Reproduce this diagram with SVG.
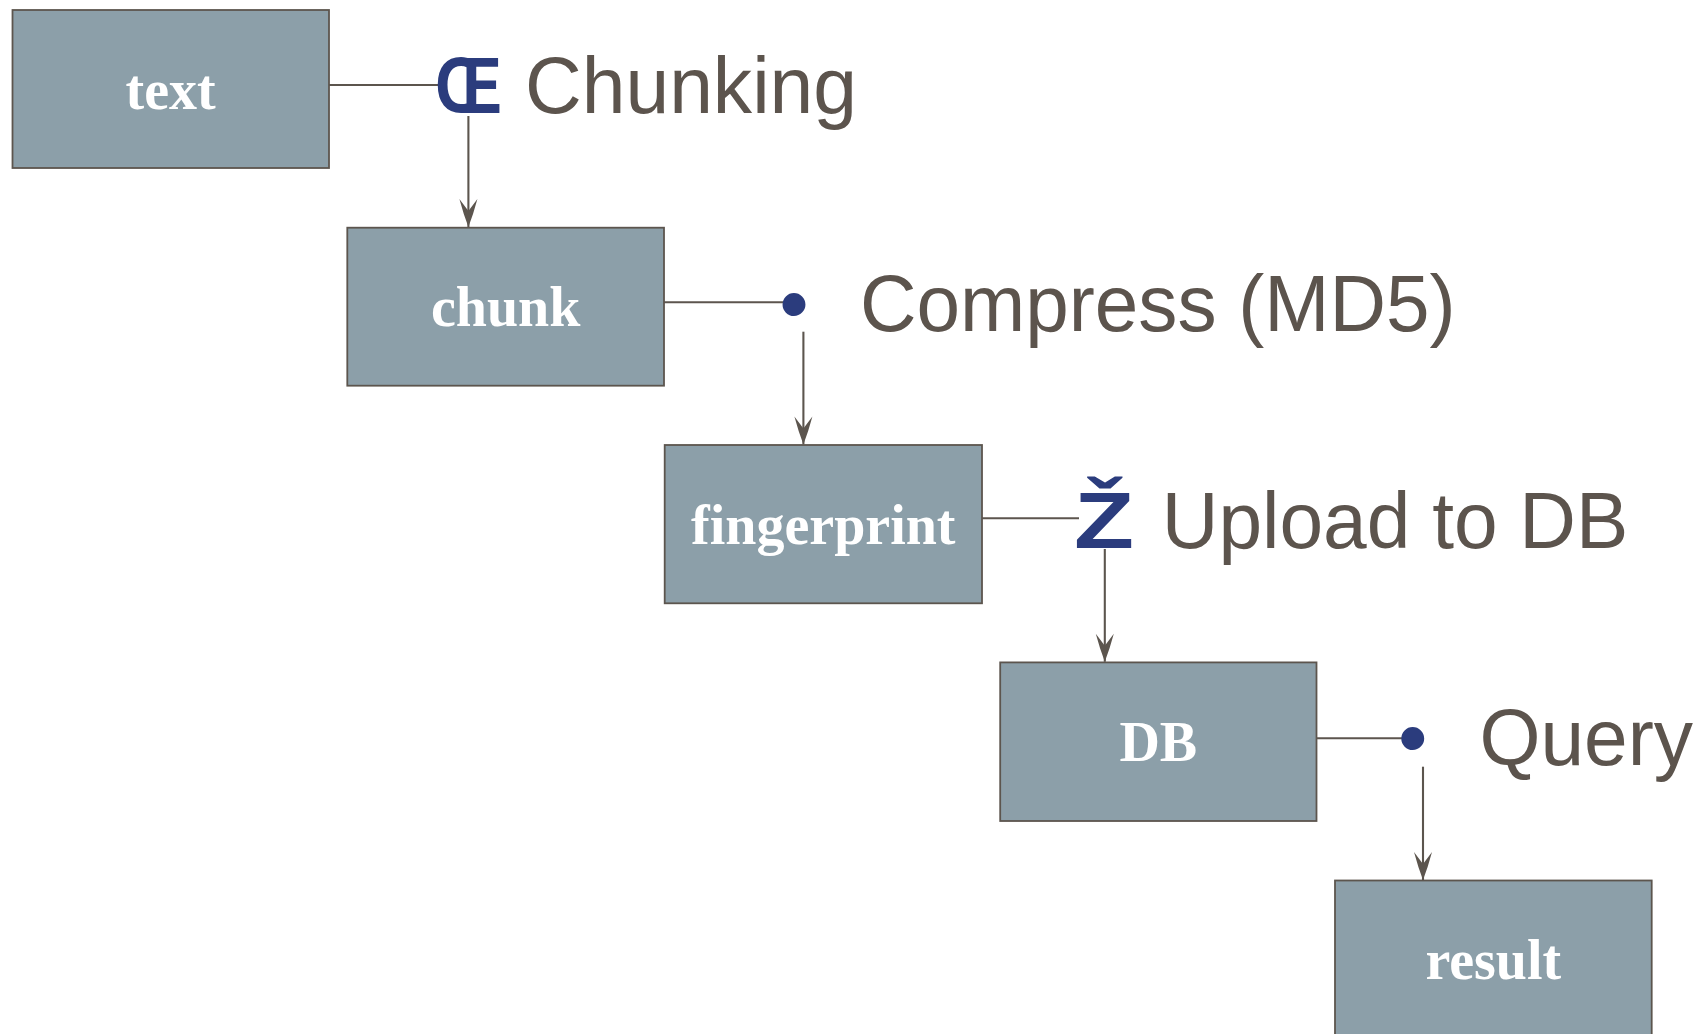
<svg xmlns="http://www.w3.org/2000/svg" width="1697" height="1034" viewBox="0 0 1697 1034">
<style>
.box{fill:#8c9fa9;stroke:#5c554e;stroke-width:1.8}
.lbl{font-family:"Liberation Serif","Times New Roman",serif;font-weight:bold;font-size:56px;fill:#ffffff;text-anchor:middle}
.step{font-family:"Liberation Sans",Arial,sans-serif;font-size:80px;fill:#5c544d}
.sym{font-family:"Liberation Sans",Arial,sans-serif;font-weight:bold;font-size:80px;fill:#2b3c7d}
.con{stroke:#5c554e;stroke-width:2.1;fill:none}
</style>
<defs>
<marker id="arr" markerUnits="userSpaceOnUse" markerWidth="32" markerHeight="22" viewBox="-29 -11 32 22" refX="0" refY="0" orient="auto">
<path d="M0,0 Q-13,-5 -28,-9 L-16,0 L-28,9 Q-13,5 0,0 Z" fill="#5c554e"/>
</marker>
</defs>
<rect width="1697" height="1034" fill="#ffffff"/>
<g id="connectors">
<line class="con" x1="329" y1="85" x2="443" y2="85"/>
<line class="con" x1="468.4" y1="116" x2="468.4" y2="227" marker-end="url(#arr)"/>
<line class="con" x1="664" y1="302.3" x2="783" y2="302.3"/>
<line class="con" x1="803.4" y1="331.7" x2="803.4" y2="444.5" marker-end="url(#arr)"/>
<line class="con" x1="982" y1="518.3" x2="1079" y2="518.3"/>
<line class="con" x1="1104.8" y1="549" x2="1104.8" y2="661.8" marker-end="url(#arr)"/>
<line class="con" x1="1316.5" y1="738.3" x2="1402" y2="738.3"/>
<line class="con" x1="1423" y1="766.7" x2="1423" y2="880" marker-end="url(#arr)"/>
</g>
<g id="node-text">
<rect class="box" x="12.5" y="10" width="316.5" height="158"/>
<text class="lbl" x="170.7" y="108.6">text</text>
</g>
<g id="node-chunk">
<rect class="box" x="347.3" y="227.7" width="316.7" height="158"/>
<text class="lbl" x="505.6" y="326.3">chunk</text>
</g>
<g id="node-fingerprint">
<rect class="box" x="664.7" y="445" width="317.3" height="158.3"/>
<text class="lbl" x="823.3" y="543.6">fingerprint</text>
</g>
<g id="node-db">
<rect class="box" x="1000.2" y="662.4" width="316.3" height="158.6"/>
<text class="lbl" x="1158.3" y="761">DB</text>
</g>
<g id="node-result">
<rect class="box" x="1335" y="880.5" width="316.7" height="160"/>
<text class="lbl" x="1493.3" y="979.1">result</text>
</g>
<g id="step-chunking">
<text class="sym" x="435" y="113" textLength="67" lengthAdjust="spacingAndGlyphs">Œ</text>
<text class="step" x="525" y="112.7" textLength="332" lengthAdjust="spacingAndGlyphs">Chunking</text>
</g>
<g id="step-compress">
<text class="sym" x="794" y="330.7" text-anchor="middle" font-weight="normal">•</text>
<text class="step" x="860" y="330.7" textLength="595.6" lengthAdjust="spacingAndGlyphs">Compress (MD5)</text>
</g>
<g id="step-upload">
<text class="sym" x="1074" y="548.3" font-size="77" textLength="60" lengthAdjust="spacingAndGlyphs">Ž</text>
<text class="step" x="1161.8" y="548.3" textLength="466.5" lengthAdjust="spacingAndGlyphs">Upload to DB</text>
</g>
<g id="step-query">
<text class="sym" x="1412.7" y="765" text-anchor="middle" font-weight="normal">•</text>
<text class="step" x="1479.5" y="765" textLength="213.5" lengthAdjust="spacingAndGlyphs">Query</text>
</g>
</svg>
